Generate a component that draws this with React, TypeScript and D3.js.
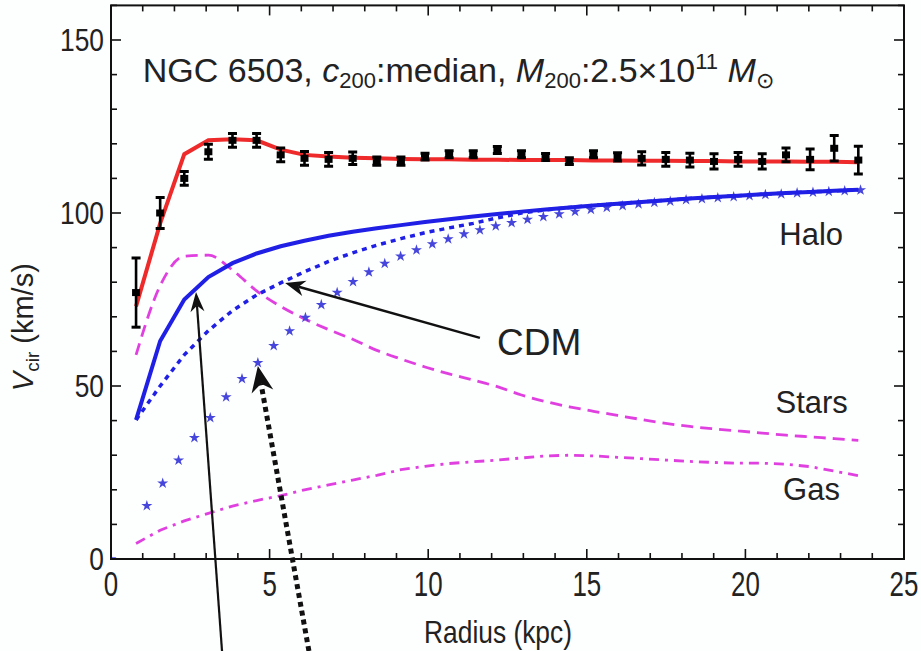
import React from "react";
import * as d3 from "d3";

// ---- data ----
const dataR = [0.79, 1.55, 2.31, 3.07, 3.83, 4.59, 5.35, 6.10, 6.86, 7.62, 8.38, 9.14, 9.90, 10.66, 11.42, 12.18, 12.94, 13.70, 14.45, 15.21, 15.97, 16.73, 17.49, 18.25, 19.01, 19.77, 20.53, 21.28, 22.04, 22.80, 23.56];
const dataV = [77, 100, 110, 117.7, 121, 121, 116.8, 115.8, 115.5, 115.8, 115, 115, 116.3, 117, 117, 118.2, 117, 116.2, 115, 117, 116.2, 115.8, 115.5, 115.3, 114.9, 115.5, 114.9, 116.8, 115.5, 118.7, 115.3];
const dataErr = [10, 4.5, 2, 2.2, 2, 2, 2, 2, 2, 1.8, 1.2, 1.2, 1, 1, 1, 1, 1, 1, 1, 1, 1.2, 1.9, 2, 2, 2.2, 2, 2.2, 2, 3, 3.7, 4];

const totalV = [73, 97, 117, 121, 121.3, 121, 118.3, 116.8, 116.3, 116, 115.8, 115.6, 115.5, 115.5, 115.4, 115.4, 115.3, 115.3, 115.3, 115.2, 115.2, 115.1, 115.1, 115.0, 115.0, 114.9, 114.9, 114.9, 114.8, 114.8, 114.7];
const haloV = [40.2, 63, 75, 81.5, 85.5, 88.3, 90.4, 92, 93.4, 94.6, 95.6, 96.5, 97.4, 98.2, 99, 99.7, 100.4, 101, 101.6, 102.2, 102.7, 103.2, 103.7, 104.2, 104.6, 105, 105.4, 105.8, 106.1, 106.4, 106.7];
const cdmV = [40.2, 50, 59, 66, 71.8, 76.3, 79.8, 83, 86, 88.5, 90.7, 92.6, 94.3, 95.7, 97, 98.6, 100.0, 100.9, 101.6, 102.2, 102.7, 103.2, 103.7, 104.2, 104.6, 105, 105.4, 105.8, 106.1, 106.4, 106.7];
const starsV = [59, 79, 87.5, 87.8, 83.5, 77.5, 73, 69.4, 66.3, 63.5, 60.3, 57.8, 55.5, 53.5, 51.7, 49.8, 47.4, 45.5, 44, 42.7, 41.5, 40.3, 39.2, 38.3, 37.6, 37, 36.4, 35.8, 35.3, 34.8, 34.3];
const gasV = [4.5, 8.3, 11, 13.2, 15.3, 16.9, 18.3, 20, 21.4, 22.8, 24.2, 25.8, 26.8, 27.6, 28.1, 28.6, 29.2, 29.8, 30, 29.8, 29.4, 29, 28.6, 28.2, 27.9, 27.7, 27.7, 27.4, 26.7, 25.4, 24.1];

const coreR = [0, 1.13, 1.63, 2.13, 2.63, 3.13, 3.63, 4.13, 4.63, 5.13, 5.63, 6.13, 6.63, 7.13, 7.63, 8.13, 8.63, 9.13, 9.63, 10.13, 10.63, 11.13, 11.63, 12.13, 12.63, 13.13, 13.63, 14.13, 14.63, 15.13, 15.63, 16.13, 16.63, 17.13, 17.63, 18.13, 18.63, 19.13, 19.63, 20.13, 20.63, 21.13, 21.63, 22.13, 22.63, 23.13, 23.63];
const coreV = [0, 15.4, 21.9, 28.5, 35.0, 40.8, 46.8, 52.1, 56.7, 61.6, 65.9, 69.8, 73.5, 77.0, 80.1, 82.9, 85.4, 87.5, 89.3, 91.0, 92.5, 93.9, 95.1, 96.2, 97.2, 98.1, 98.9, 99.7, 100.4, 101.0, 101.6, 102.1, 102.6, 103.0, 103.4, 103.8, 104.1, 104.4, 104.7, 105.0, 105.3, 105.5, 105.8, 106.0, 106.2, 106.4, 106.6];

const xTicks = [0, 5, 10, 15, 20, 25];
const yTicks = [0, 50, 100, 150];

// annotation arrows in data coordinates [tailR, tailV, tipR, tipV]
const arrowSolid = [3.5, -26.6, 2.68, 77.2];
const arrowDotted = [6.24, -26.6, 4.63, 55.8];
const arrowCdm = [11.63, 63.9, 5.49, 79.8];

const W = 921, H = 651;
const left = 111, right = 904, top = 5.4, bottom = 559;

export default function App() {
  const x = d3.scaleLinear().domain([0, 25]).range([left, right]);
  const y = d3.scaleLinear().domain([0, 160]).range([bottom, top]);
  const line = d3.line<[number, number]>().x(d => x(d[0])).y(d => y(d[1]));
  const mk = (vs: number[]) => dataR.map((r, i) => [r, vs[i]] as [number, number]);
  const starPath = d3.symbol().type(d3.symbolStar).size(38)() as string;
  const font = "'Liberation Sans', Arial, sans-serif";
  const blue = "#1f1fe6";
  const magenta = "#e040e0";

  const xMinor = d3.range(0, 26, 1);
  const yMinor = d3.range(0, 161, 10);

  const arrow = (a: number[], w: number, hl: number, hw: number, dash?: string) => {
    const x1 = x(a[0]), y1 = y(a[1]), x2 = x(a[2]), y2 = y(a[3]);
    const ang = Math.atan2(y2 - y1, x2 - x1);
    const ux = Math.cos(ang), uy = Math.sin(ang);
    const bx = x2 - ux * hl, by = y2 - uy * hl;
    const nx = bx + ux * hl * 0.3, ny = by + uy * hl * 0.3;
    const head = `M${x2},${y2} L${bx - uy * hw},${by + ux * hw} L${nx},${ny} L${bx + uy * hw},${by - ux * hw} Z`;
    return (
      <g>
        <line x1={x1} y1={y1} x2={nx} y2={ny} stroke="#111" strokeWidth={w} strokeDasharray={dash} />
        <path d={head} fill="#111" />
      </g>
    );
  };

  return (
    <svg width={W} height={H} style={{ position: "absolute", left: 0, top: 0, background: "#fff" }} fontFamily={font}>
      <defs>
        <clipPath id="plot"><rect x={left} y={top} width={right - left} height={bottom - top} /></clipPath>
      </defs>
      <rect x={0} y={0} width={W} height={H} fill="#fdfefe" />

      <g clipPath="url(#plot)">
        {/* gas */}
        <path d={line(mk(gasV)) as string} fill="none" stroke={magenta} strokeWidth={2.8} strokeDasharray="10 6 3 6" />
        {/* stars */}
        <path d={line.curve(d3.curveMonotoneX)(mk(starsV)) as string} fill="none" stroke={magenta} strokeWidth={2.8} strokeDasharray="12 7" />
        {/* cored halo stars */}
        {coreR.map((r, i) => (
          <path key={i} d={starPath} transform={`translate(${x(r)},${y(coreV[i])})`} fill="#4646dc" />
        ))}
        {/* CDM */}
        <path d={line.curve(d3.curveLinear)(mk(cdmV)) as string} fill="none" stroke={blue} strokeWidth={3.5} strokeDasharray="5 5" />
        {/* halo */}
        <path d={line(mk(haloV)) as string} fill="none" stroke={blue} strokeWidth={4} />
        {/* total */}
        <path d={line(mk(totalV)) as string} fill="none" stroke="#ee2a2a" strokeWidth={4} />
        {/* data */}
        {dataR.map((r, i) => {
          const cx = x(r), cy = y(dataV[i]);
          const y1 = y(dataV[i] + dataErr[i]), y2 = y(dataV[i] - dataErr[i]);
          return (
            <g key={i}>
              <line x1={cx} x2={cx} y1={y1} y2={y2} stroke="#000" strokeWidth={2.6} />
              <line x1={cx - 4.5} x2={cx + 4.5} y1={y1} y2={y1} stroke="#000" strokeWidth={3} />
              <line x1={cx - 4.5} x2={cx + 4.5} y1={y2} y2={y2} stroke="#000" strokeWidth={3} />
              <rect x={cx - 4} y={cy - 3.5} width={8} height={7} fill="#000" />
            </g>
          );
        })}
      </g>

      {/* frame */}
      <rect x={left} y={top} width={right - left} height={bottom - top} fill="none" stroke="#111" strokeWidth={2} />
      {xMinor.map(v => {
        const len = v % 5 === 0 ? 10 : 6;
        return (
          <g key={"x" + v}>
            <line x1={x(v)} x2={x(v)} y1={bottom} y2={bottom - len} stroke="#111" strokeWidth={1.6} />
            <line x1={x(v)} x2={x(v)} y1={top} y2={top + len} stroke="#111" strokeWidth={1.6} />
          </g>
        );
      })}
      {yMinor.map(v => {
        const len = v % 50 === 0 ? 10 : 6;
        return (
          <g key={"y" + v}>
            <line x1={left} x2={left + len} y1={y(v)} y2={y(v)} stroke="#111" strokeWidth={1.6} />
            <line x1={right} x2={right - len} y1={y(v)} y2={y(v)} stroke="#111" strokeWidth={1.6} />
          </g>
        );
      })}

      {/* tick labels */}
      {xTicks.map(v => (
        <text key={"xl" + v} transform={`translate(${x(v)},${bottom + 37}) scale(0.72,1)`} textAnchor="middle" fontSize={36} fill="#222">{v}</text>
      ))}
      {yTicks.map(v => (
        <text key={"yl" + v} transform={`translate(${left - 7},${y(v) + 11}) scale(0.85,1)`} textAnchor="end" fontSize={31} fill="#222">{v}</text>
      ))}

      {/* axis titles */}
      <text transform={`translate(${498},${643}) scale(0.85,1)`} textAnchor="middle" fontSize={31} fill="#222">Radius (kpc)</text>
      <text transform={`translate(${33},${y(67)}) rotate(-90)`} textAnchor="middle" fontSize={29} fill="#222">
        <tspan fontStyle="italic">V</tspan><tspan fontSize={19} dy={6}>cir</tspan><tspan dy={-6}> (km/s)</tspan>
      </text>

      {/* title */}
      <text x={x(1.0)} y={y(138)} fontSize={34} fill="#222">
        <tspan>NGC 6503, </tspan>
        <tspan fontStyle="italic">c</tspan><tspan fontSize={22} dy={6}>200</tspan>
        <tspan dy={-6}>:median, </tspan>
        <tspan fontStyle="italic">M</tspan><tspan fontSize={22} dy={6}>200</tspan>
        <tspan dy={-6}>:2.5×10</tspan><tspan fontSize={22} dy={-13}>11</tspan>
        <tspan dy={13} fontStyle="italic"> M</tspan><tspan fontSize={22} dy={6}>⊙</tspan>
      </text>

      {/* labels */}
      <text x={x(23.08)} y={y(90.8)} textAnchor="end" fontSize={31} fill="#222">Halo</text>
      <text x={x(23.23)} y={y(42.2)} textAnchor="end" fontSize={31} fill="#222">Stars</text>
      <text x={x(22.98)} y={y(17)} textAnchor="end" fontSize={31} fill="#222">Gas</text>
      <text x={x(12.17)} y={y(59)} fontSize={37} fill="#222">CDM</text>

      {/* arrows */}
      {arrow(arrowCdm, 2.5, 20, 8)}
      {arrow(arrowSolid, 2.2, 20, 7)}
      {arrow(arrowDotted, 5, 26, 11, "5 4")}
    </svg>
  );
}
